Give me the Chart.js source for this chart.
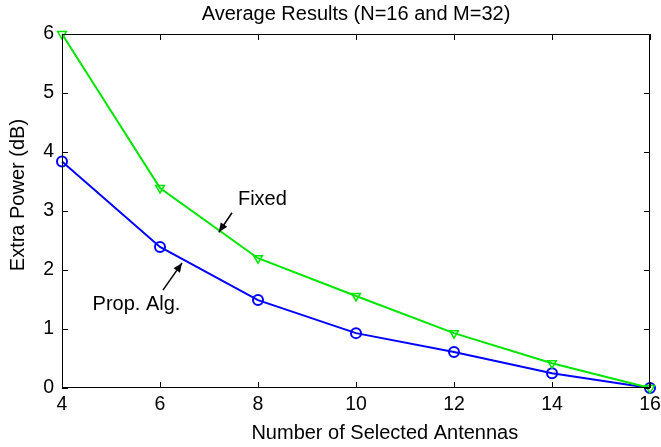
<!DOCTYPE html>
<html>
<head>
<meta charset="utf-8">
<script src="https://cdn.jsdelivr.net/npm/chart.js@4"></script>
<style>
  html, body { margin: 0; padding: 0; background: #fff; }
  #wrap { width: 661px; height: 447px; }
</style>
</head>
<body>
<div id="wrap"><canvas id="myChart"></canvas></div>
<script>
// 横軸（選択アンテナ数）
const antennas = [4, 6, 8, 10, 12, 14, 16];
// 各方式の余分な電力 (dB)
const fixedPower = [6.0, 3.39, 2.2, 1.56, 0.93, 0.42, 0.0];
const propPower = [3.84, 2.39, 1.49, 0.93, 0.61, 0.25, 0.0];
// 目盛り
const xTicks = [4, 6, 8, 10, 12, 14, 16];
const yTicks = [0, 1, 2, 3, 4, 5, 6];

// 注釈（データ座標）
const notes = [
    { text: 'Fixed', tx: 8.09, ty: 3.19, ax: 7.47, ay: 2.97, hx: 7.2, hy: 2.64 },
    { text: 'Prop. Alg.', tx: 5.52, ty: 1.41, ax: 6.06, ay: 1.66, hx: 6.45, hy: 2.12 }
];

const FONT = 'Liberation Sans';
const xTitle = 'Number of Selected Antennas';
const yTitle = 'Extra Power (dB)';

// 枠・内向きの目盛り・軸タイトル・注釈を描く
const boxPlugin = {
    id: 'box',
    afterDatasetsDraw(chart) {
        const { ctx, chartArea: a, scales } = chart;
        ctx.save();
        ctx.strokeStyle = '#000';
        ctx.lineWidth = 1;
        ctx.strokeRect(a.left + 0.5, a.top + 0.5, a.right - a.left - 1, a.bottom - a.top - 1);
        const len = 6;
        ctx.beginPath();
        xTicks.forEach(v => {
            const x = Math.round(scales.x.getPixelForValue(v)) + 0.5;
            ctx.moveTo(x, a.bottom); ctx.lineTo(x, a.bottom - len);
            ctx.moveTo(x, a.top); ctx.lineTo(x, a.top + len);
        });
        yTicks.forEach(v => {
            const y = Math.round(scales.y.getPixelForValue(v)) + 0.5;
            ctx.moveTo(a.left, y); ctx.lineTo(a.left + len, y);
            ctx.moveTo(a.right, y); ctx.lineTo(a.right - len, y);
        });
        ctx.stroke();

        ctx.fillStyle = '#000';
        ctx.font = '20px "' + FONT + '"';
        ctx.textAlign = 'center';
        ctx.textBaseline = 'middle';

        // 軸タイトル
        ctx.fillText(xTitle, a.left + (a.right - a.left) * 0.549, 433);
        ctx.save();
        ctx.translate(18, a.top + (a.bottom - a.top) * 0.455);
        ctx.rotate(-Math.PI / 2);
        ctx.fillText(yTitle, 0, 0);
        ctx.restore();

        // 注釈
        notes.forEach(n => {
            ctx.fillText(n.text, scales.x.getPixelForValue(n.tx), scales.y.getPixelForValue(n.ty));
            const x0 = scales.x.getPixelForValue(n.ax), y0 = scales.y.getPixelForValue(n.ay);
            const x1 = scales.x.getPixelForValue(n.hx), y1 = scales.y.getPixelForValue(n.hy);
            ctx.beginPath();
            ctx.lineWidth = 1.5;
            ctx.moveTo(x0, y0); ctx.lineTo(x1, y1);
            ctx.stroke();
            const ang = Math.atan2(y1 - y0, x1 - x0);
            const hl = 10, hw = 0.4;
            ctx.beginPath();
            ctx.moveTo(x1, y1);
            ctx.lineTo(x1 - hl * Math.cos(ang - hw), y1 - hl * Math.sin(ang - hw));
            ctx.lineTo(x1 - hl * Math.cos(ang + hw), y1 - hl * Math.sin(ang + hw));
            ctx.closePath();
            ctx.fill();
        });
        ctx.restore();
    }
};

const data = {
    labels: antennas,
    datasets: [{
        label: 'Fixed',
        data: antennas.map((x, i) => ({ x: x, y: fixedPower[i] })),
        borderColor: '#00e600',
        backgroundColor: 'rgba(0,0,0,0)',
        borderWidth: 2,
        pointStyle: 'triangle',
        rotation: 180,
        pointRadius: 5,
        pointBorderWidth: 1.5,
        pointBorderColor: '#00e600',
        tension: 0,
        clip: false
    }, {
        label: 'Prop. Alg.',
        data: antennas.map((x, i) => ({ x: x, y: propPower[i] })),
        borderColor: '#0000ff',
        backgroundColor: 'rgba(0,0,0,0)',
        borderWidth: 2,
        pointStyle: 'circle',
        pointRadius: 5,
        pointBorderWidth: 2,
        pointBorderColor: '#0000ff',
        tension: 0,
        clip: false
    }]
};

const config = {
    type: 'line',
    data: data,
    plugins: [boxPlugin],
    options: {
        responsive: true,
        maintainAspectRatio: false,
        animation: false,
        layout: { padding: 0 },
        plugins: {
            legend: { display: false },
            tooltip: { enabled: false },
            title: {
                display: true,
                fullSize: false,
                text: 'Average Results (N=16 and M=32)',
                color: '#000',
                font: { family: FONT, size: 20, weight: 'normal' },
                padding: { top: 2, bottom: 8 }
            }
        },
        scales: {
            x: {
                type: 'linear',
                min: 4,
                max: 16,
                afterFit(s) { s.height = 59; s.paddingRight = 11; s.paddingLeft = 0; },
                afterBuildTicks(s) { s.ticks = xTicks.map(v => ({ value: v })); },
                grid: { display: false, drawTicks: false },
                border: { display: false },
                ticks: { color: '#000', padding: 5, font: { family: FONT, size: 19.5 } }
            },
            y: {
                min: 0,
                max: 6,
                afterFit(s) { s.width = 62; },
                afterBuildTicks(s) { s.ticks = yTicks.map(v => ({ value: v })); },
                grid: { display: false, drawTicks: false },
                border: { display: false },
                ticks: { color: '#000', padding: 8, font: { family: FONT, size: 19.5 } }
            }
        }
    }
};

const myChart = new Chart(document.getElementById('myChart'), config);
</script>
</body>
</html>
